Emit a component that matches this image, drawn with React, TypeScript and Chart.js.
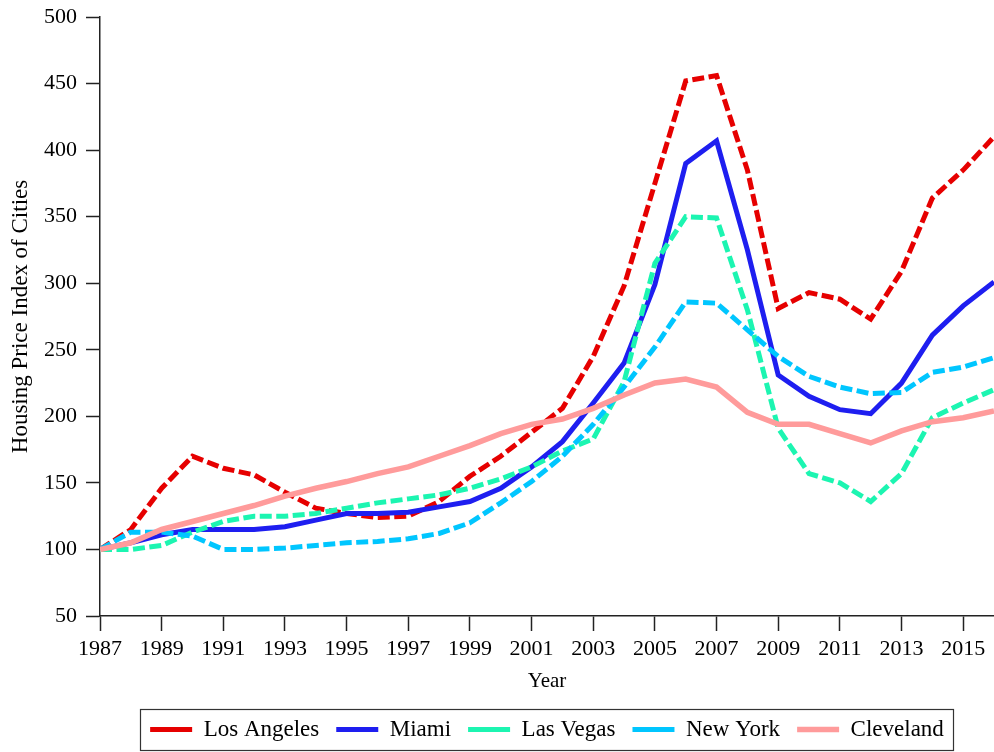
import { useEffect, useRef } from 'react';
import { Chart, registerables } from 'chart.js';

Chart.register(...registerables);

const YEARS = [
  1987, 1988, 1989, 1990, 1991, 1992, 1993, 1994, 1995, 1996,
  1997, 1998, 1999, 2000, 2001, 2002, 2003, 2004, 2005, 2006,
  2007, 2008, 2009, 2010, 2011, 2012, 2013, 2014, 2015, 2016,
];

const LOS_ANGELES = [
  100, 115, 146, 170, 161, 156, 143, 131, 127, 124,
  125, 136, 155, 170, 188, 206, 245, 298, 375, 452,
  456, 385, 281, 293, 288, 273, 309, 364, 385, 410,
];
const MIAMI = [
  100, 105, 111, 115, 115, 115, 117, 122, 127, 127,
  128, 132, 136, 146, 162, 181, 210, 240, 299, 390,
  407, 325, 231, 215, 205, 202, 225, 261, 283, 301,
];
const LAS_VEGAS = [
  100, 100, 103, 113, 121, 125, 125, 127, 131, 135,
  138, 141, 146, 153, 162, 174, 183, 226, 315, 350,
  349, 280, 191, 157, 150, 136, 157, 199, 210, 220,
];
const NEW_YORK = [
  100, 113, 113, 110, 100, 100, 101, 103, 105, 106,
  108, 112, 120, 135, 151, 170, 194, 222, 252, 286,
  285, 265, 245, 230, 222, 217, 218, 233, 237, 244,
];
const CLEVELAND = [
  100, 105, 115, 121, 127, 133, 140, 146, 151, 157,
  162, 170, 178, 187, 194, 198, 206, 216, 225, 228,
  222, 203, 194, 194, 187, 180, 189, 196, 199, 204,
];

const X_TICKS = [1987, 1989, 1991, 1993, 1995, 1997, 1999, 2001, 2003, 2005, 2007, 2009, 2011, 2013, 2015];
const X_MIN = 1987;
const X_MAX = 2016;
const Y_MIN = 50;
const Y_MAX = 500;
const Y_STEP = 50;

const FONT = "'Liberation Serif', 'Times New Roman', serif";

const toPoints = (vals: number[]) => YEARS.map((yr, i) => ({ x: yr, y: vals[i] }));

const legendBorder = {
  id: 'legendBorder',
  afterDraw(chart: any) {
    const lg = chart.legend;
    const hb = lg && lg.legendHitBoxes;
    if (!hb || !hb.length) return;
    const left = Math.min(...hb.map((h: any) => h.left)) - 10;
    const right = Math.max(...hb.map((h: any) => h.left + h.width)) + 9;
    const cy = hb[0].top + hb[0].height / 2;
    const ctx = chart.ctx;
    ctx.save();
    ctx.strokeStyle = '#333';
    ctx.lineWidth = 1.2;
    ctx.setLineDash([]);
    ctx.strokeRect(Math.round(left) + 0.5, Math.round(cy - 20.5) + 0.5, Math.round(right - left), 41);
    ctx.restore();
  },
};

export default function App() {
  const ref = useRef<HTMLCanvasElement>(null);

  useEffect(() => {
    const canvas = ref.current;
    if (!canvas) return;
    const dash = [12, 4.5];
    const common = { pointRadius: 0, pointHoverRadius: 0, tension: 0, fill: false, borderWidth: 5 };
    const chart = new Chart(canvas, {
      type: 'line',
      data: {
        datasets: [
          { ...common, label: 'Los Angeles', data: toPoints(LOS_ANGELES), borderColor: '#e60000', backgroundColor: '#e60000', borderDash: dash, order: 5 },
          { ...common, label: 'Miami', data: toPoints(MIAMI), borderColor: '#1e1ef0', backgroundColor: '#1e1ef0', order: 4 },
          { ...common, label: 'Las Vegas', data: toPoints(LAS_VEGAS), borderColor: '#1cf5b1', backgroundColor: '#1cf5b1', borderDash: dash, order: 3 },
          { ...common, label: 'New York', data: toPoints(NEW_YORK), borderColor: '#00c6ff', backgroundColor: '#00c6ff', borderDash: dash, order: 2 },
          { ...common, label: 'Cleveland', data: toPoints(CLEVELAND), borderColor: '#ff9b9b', backgroundColor: '#ff9b9b', borderWidth: 5.5, order: 1 },
        ] as any,
      },
      options: {
        animation: false,
        responsive: false,
        color: '#000',
        layout: { padding: { top: 17, right: 0, bottom: 1, left: 0 } },
        plugins: {
          tooltip: { enabled: false },
          legend: {
            position: 'bottom',
            fullSize: false,
            align: 'center',
            labels: {
              usePointStyle: true,
              pointStyle: 'line',
              pointStyleWidth: 42,
              padding: 17,
              color: '#000',
              font: { family: FONT, size: 23 },
              sort: (a: any, b: any) => a.datasetIndex - b.datasetIndex,
            },
          },
        },
        scales: {
          x: {
            type: 'linear',
            min: X_MIN,
            max: X_MAX,
            afterBuildTicks: (scale: any) => {
              scale.ticks = X_TICKS.map((v) => ({ value: v }));
            },
            afterFit: (scale: any) => {
              scale.height = 85;
            },
            ticks: {
              autoSkip: false,
              maxRotation: 0,
              padding: 5,
              color: '#000',
              font: { family: FONT, size: 22 },
              callback: (v: any) => String(v),
            },
            grid: { drawOnChartArea: false, drawTicks: true, tickLength: 15, tickColor: '#222', tickWidth: 1.5 },
            border: { display: true, color: '#222', width: 1.5 },
            title: { display: true, text: 'Year', color: '#000', font: { family: FONT, size: 21 }, padding: { top: 0, bottom: 7 } },
          },
          y: {
            type: 'linear',
            min: Y_MIN,
            max: Y_MAX,
            afterFit: (scale: any) => {
              scale.width = 100;
              scale.paddingTop = 0;
              scale.paddingBottom = 0;
            },
            ticks: {
              stepSize: Y_STEP,
              padding: 9,
              color: '#000',
              font: { family: FONT, size: 22 },
              callback: (v: any) => String(v),
            },
            grid: { drawOnChartArea: false, drawTicks: true, tickLength: 14, tickColor: '#222', tickWidth: 1.5 },
            border: { display: true, color: '#222', width: 1.5 },
            title: { display: true, text: 'Housing Price Index of Cities', color: '#000', font: { family: FONT, size: 23 }, padding: { top: 7, bottom: 0 } },
          },
        },
      } as any,
      plugins: [legendBorder],
    });
    return () => chart.destroy();
  }, []);

  return (
    <div style={{ position: 'fixed', left: 0, top: 0, width: 994, height: 752, background: '#fff' }}>
      <canvas ref={ref} width={994} height={752} style={{ display: 'block', width: 994, height: 752 }} />
    </div>
  );
}
